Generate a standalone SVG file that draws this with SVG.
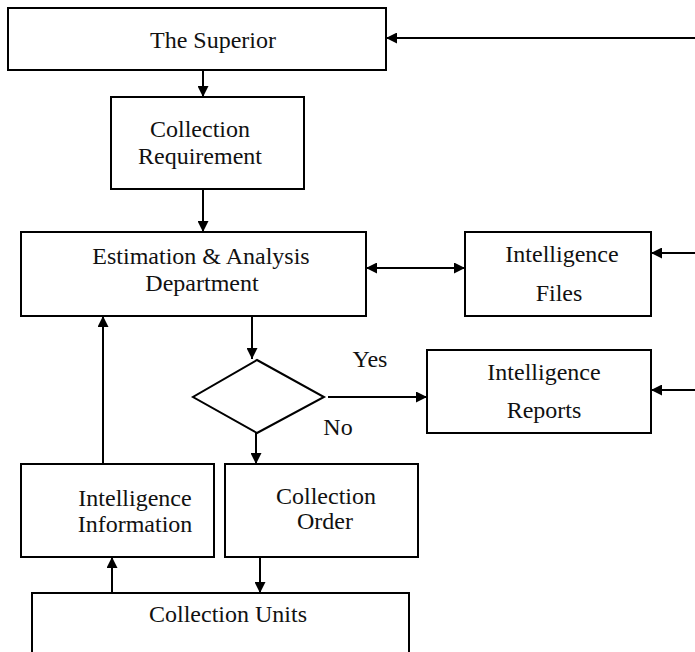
<svg xmlns="http://www.w3.org/2000/svg" width="695" height="652" viewBox="0 0 695 652">
<defs>
<marker id="ah" viewBox="0 0 10 10" refX="10" refY="5" markerWidth="11" markerHeight="11" markerUnits="userSpaceOnUse" orient="auto-start-reverse">
<path d="M0,0 L10,5 L0,10 z" fill="#000"/>
</marker>
<style>
.box{fill:#fff;stroke:#000;stroke-width:2}
.t{font-size:24px;fill:#111;text-anchor:middle}
.c{stroke:#000;stroke-width:2;fill:none;marker-end:url(#ah)}
</style>
</defs>
<rect width="695" height="652" fill="#fff"/>
<g font-family="Liberation Serif, Times New Roman, serif">
<g id="superior"><rect class="box" x="8" y="8" width="378" height="62"/><text class="t" x="213" y="48">The Superior</text></g>
<g id="collection-requirement"><rect class="box" x="111" y="97" width="193" height="92"/><text class="t" x="200" y="137">Collection</text><text class="t" x="200" y="164">Requirement</text></g>
<g id="estimation"><rect class="box" x="21" y="232" width="345" height="84"/><text class="t" x="201" y="264">Estimation &amp; Analysis</text><text class="t" x="202" y="291">Department</text></g>
<g id="intelligence-files"><rect class="box" x="465" y="232" width="186" height="84"/><text class="t" x="562" y="262">Intelligence</text><text class="t" x="559" y="301">Files</text></g>
<g id="decision"><polygon class="box" points="257,360 324,397 257,433 193,397"/></g>
<g id="intelligence-reports"><rect class="box" x="427" y="350" width="224" height="83"/><text class="t" x="544" y="380">Intelligence</text><text class="t" x="544" y="418">Reports</text></g>
<g id="intelligence-information"><rect class="box" x="21" y="464" width="193" height="93"/><text class="t" x="135" y="506">Intelligence</text><text class="t" x="135" y="532">Information</text></g>
<g id="collection-order"><rect class="box" x="225" y="464" width="193" height="93"/><text class="t" x="326" y="504">Collection</text><text class="t" x="325" y="529">Order</text></g>
<g id="collection-units"><rect class="box" x="32" y="593" width="377" height="70"/><text class="t" x="228" y="622">Collection Units</text></g>
<g id="labels"><text class="t" x="370" y="367">Yes</text><text class="t" x="338" y="435">No</text></g>
</g>
<g id="connectors">
<line class="c" x1="695" y1="38" x2="386" y2="38"/>
<line class="c" x1="203" y1="70" x2="203" y2="97"/>
<line class="c" x1="203" y1="189" x2="203" y2="232"/>
<line class="c" x1="366" y1="268" x2="465" y2="268" style="marker-start:url(#ah)"/>
<line class="c" x1="695" y1="253" x2="651" y2="253"/>
<line class="c" x1="252" y1="316" x2="252" y2="359"/>
<line class="c" x1="328" y1="397" x2="427" y2="397"/>
<line class="c" x1="695" y1="390" x2="651" y2="390"/>
<line class="c" x1="256" y1="433" x2="256" y2="464"/>
<line class="c" x1="103" y1="464" x2="103" y2="316"/>
<line class="c" x1="112" y1="593" x2="112" y2="557"/>
<line class="c" x1="260" y1="557" x2="260" y2="593"/>
</g>
</svg>
